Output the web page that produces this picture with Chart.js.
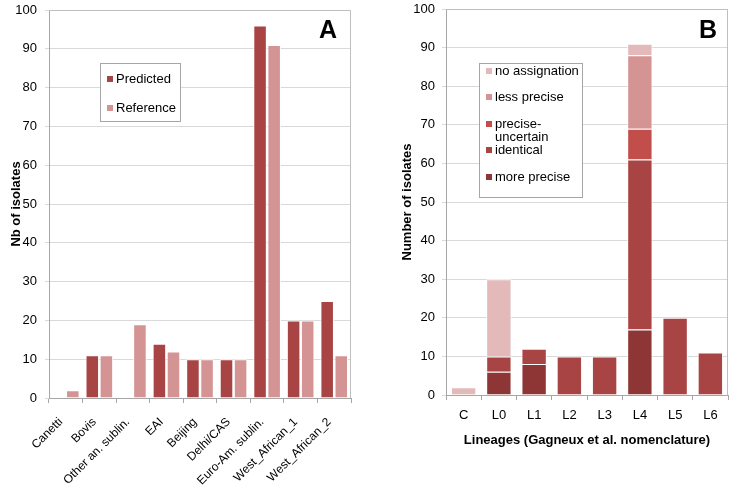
<!DOCTYPE html>
<html><head><meta charset="utf-8">
<script src="https://cdn.jsdelivr.net/npm/chart.js@4/dist/chart.umd.min.js"></script>
<style>
html,body{margin:0;padding:0;background:#fff;}
#wrap{position:relative;width:733px;height:490px;}
#ca{position:absolute;left:0;top:0;}
#cb{position:absolute;left:365px;top:0;}
</style></head>
<body><div id="wrap"><canvas id="ca" width="365" height="490"></canvas><canvas id="cb" width="368" height="490"></canvas></div>
<script>
// Panel A data
const catsA = ['Canetti','Bovis','Other an. sublin.','EAI','Beijing','Delhi/CAS','Euro-Am. sublin.','West_African_1','West_African_2'];
const predicted = [0, 11, 0, 14, 10, 10, 96, 20, 25];
const reference = [2, 11, 19, 12, 10, 10, 91, 20, 11];
// Panel B data
const catsB = ['C','L0','L1','L2','L3','L4','L5','L6'];
const morePrecise = [0, 6, 8, 0, 0, 17, 0, 0];
const identical = [0, 4, 4, 10, 10, 44, 20, 11];
const preciseUncertain = [0, 0, 0, 0, 0, 8, 0, 0];
const lessPrecise = [0, 0, 0, 0, 0, 19, 0, 0];
const noAssignation = [2, 20, 0, 0, 0, 3, 0, 0];
const yTicks = [0,10,20,30,40,50,60,70,80,90,100];

const FONT = 'Liberation Sans, Arial, sans-serif';
Chart.defaults.font.family = FONT;
Chart.defaults.color = '#000';
Chart.defaults.animation = false;

function boxPlugin(letter, lx, ly, legend){
  return {
    id:'extras'+letter,
    afterDraw(chart){
      const ctx = chart.ctx, a = chart.chartArea;
      ctx.save();
      ctx.strokeStyle = '#bfbfbf'; ctx.lineWidth = 1;
      ctx.beginPath();
      ctx.moveTo(a.left, a.top+0.5); ctx.lineTo(a.right-0.5, a.top+0.5); ctx.lineTo(a.right-0.5, a.bottom);
      ctx.stroke();
      ctx.fillStyle = '#000';
      ctx.font = 'bold 25px ' + FONT;
      ctx.textAlign='center'; ctx.textBaseline='middle';
      ctx.fillText(letter, lx, ly);
      // legend
      const L = legend;
      ctx.fillStyle='#fff';
      ctx.fillRect(L.x, L.y, L.w, L.h);
      ctx.strokeStyle='#a6a6a6';
      ctx.strokeRect(L.x+0.5, L.y+0.5, L.w, L.h);
      ctx.font = '13px ' + FONT;
      ctx.textAlign='left'; ctx.textBaseline='middle';
      L.items.forEach(it=>{
        const ds = chart.data.datasets[it.ds];
        ctx.fillStyle = ds.backgroundColor;
        ctx.fillRect(L.x+7, it.y-3, 6, 6);
        ctx.fillStyle='#000';
        it.text.forEach((t,i)=>ctx.fillText(t, L.x+16, it.y + i*13));
      });
      ctx.restore();
    }
  };
}

const gridCommon = {color:'#d9d9d9', lineWidth:1};

new Chart(document.getElementById('ca'), {
  type:'bar',
  data:{labels:catsA, datasets:[
    {label:'Predicted', data:predicted, backgroundColor:'#a94444', borderColor:'#ffffff', borderWidth:1, barPercentage:0.96, categoryPercentage:0.84},
    {label:'Reference', data:reference, backgroundColor:'#d49494', borderColor:'#ffffff', borderWidth:1, barPercentage:0.96, categoryPercentage:0.84}
  ]},
  options:{
    responsive:false, maintainAspectRatio:false,
    layout:{padding:{left:0, top:10, right:14, bottom:0}},
    plugins:{legend:{display:false}, tooltip:{enabled:false}},
    scales:{
      x:{
        grid:{display:true, drawOnChartArea:false, color:'#a6a6a6', tickLength:5, offset:true},
        border:{color:'#a6a6a6'},
        ticks:{maxRotation:45, minRotation:45, autoSkip:false, font:{size:12}, color:'#000', padding:12, labelOffset:-5},
        afterFit(s){ s.height = 92; }
      },
      y:{
        min:0, max:100,
        afterBuildTicks(s){ s.ticks = yTicks.map(v=>({value:v})); },
        grid:{...gridCommon, tickLength:4},
        border:{color:'#a6a6a6'},
        ticks:{font:{size:13}, color:'#000', padding:8},
        title:{display:true, text:'Nb of isolates', font:{size:13, weight:'bold'}, padding:{top:9,bottom:0}},
        afterFit(s){ s.width = 49; s.paddingTop = 0; s.paddingBottom = 0; }
      }
    }
  },
  plugins:[boxPlugin('A', 328, 31, {x:100, y:63, w:80, h:58, items:[{ds:0,y:79,text:['Predicted']},{ds:1,y:108,text:['Reference']}]})]
});

new Chart(document.getElementById('cb'), {
  type:'bar',
  data:{labels:catsB, datasets:[
    {label:'more precise', data:morePrecise, backgroundColor:'#8e3636', borderColor:'#ffffff', borderWidth:1},
    {label:'identical', data:identical, backgroundColor:'#a94444', borderColor:'#ffffff', borderWidth:1},
    {label:'precise-uncertain', data:preciseUncertain, backgroundColor:'#c24e4c', borderColor:'#ffffff', borderWidth:1},
    {label:'less precise', data:lessPrecise, backgroundColor:'#d49494', borderColor:'#ffffff', borderWidth:1},
    {label:'no assignation', data:noAssignation, backgroundColor:'#e3b9b9', borderColor:'#ffffff', borderWidth:1}
  ].map(d=>Object.assign(d,{barPercentage:0.72, categoryPercentage:1.0}))},
  options:{
    responsive:false, maintainAspectRatio:false,
    layout:{padding:{left:0, top:9, right:5, bottom:38}},
    plugins:{legend:{display:false}, tooltip:{enabled:false}},
    scales:{
      x:{
        stacked:true,
        grid:{display:true, drawOnChartArea:false, color:'#a6a6a6', tickLength:5, offset:true},
        border:{color:'#a6a6a6'},
        ticks:{font:{size:13}, color:'#000', padding:8, maxRotation:0},
        title:{display:true, text:'Lineages (Gagneux et al. nomenclature)', font:{size:13, weight:'bold'}, padding:{top:4,bottom:4}},
        afterFit(s){ s.height = 57; }
      },
      y:{
        stacked:true, min:0, max:100,
        afterBuildTicks(s){ s.ticks = yTicks.map(v=>({value:v})); },
        grid:{...gridCommon, tickLength:4},
        border:{color:'#a6a6a6'},
        ticks:{font:{size:13}, color:'#000', padding:7},
        title:{display:true, text:'Number of isolates', font:{size:13, weight:'bold'}, padding:{top:35,bottom:0}},
        afterFit(s){ s.width = 81; s.paddingTop = 0; s.paddingBottom = 0; }
      }
    }
  },
  plugins:[boxPlugin('B', 343, 31, {x:114, y:63, w:103, h:134, items:[
    {ds:4,y:71,text:['no assignation']},
    {ds:3,y:97,text:['less precise']},
    {ds:2,y:124,text:['precise-','uncertain']},
    {ds:1,y:150,text:['identical']},
    {ds:0,y:177,text:['more precise']}
  ]})]
});
</script>
</body></html>
